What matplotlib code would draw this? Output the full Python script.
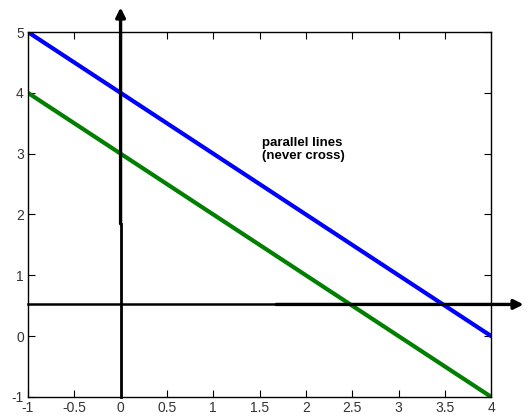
import numpy as np
import matplotlib.pyplot as plt

plt.rcParams['font.family'] = ['Liberation Sans', 'DejaVu Sans']
plt.rcParams['axes.unicode_minus'] = False

x_vals = [-1, 4]
blue_y = [5, 0]    # y = -x + 4
green_y = [4, -1]  # y = -x + 3
x_ticks = [-1, -0.5, 0, 0.5, 1, 1.5, 2, 2.5, 3, 3.5, 4]
y_ticks = [-1, 0, 1, 2, 3, 4, 5]

fig = plt.figure(figsize=(5.27, 4.16), dpi=100)
ax = fig.add_axes([0.053, 0.046, 0.879, 0.877])

ax.plot(x_vals, blue_y, color='#0000ff', lw=3)
ax.plot(x_vals, green_y, color='#007f00', lw=3)

# axes arrows (thin full line plus a thicker arrow part)
ax.plot([0, 0], [-1, 1.85], color='black', lw=2, clip_on=False)
ax.annotate('', xy=(0, 5.45), xytext=(0, 1.8),
            arrowprops=dict(arrowstyle='-|>', color='black', lw=2.4, mutation_scale=14),
            annotation_clip=False)
ax.plot([-1, 1.7], [0.52, 0.52], color='black', lw=1.8, clip_on=False)
ax.annotate('', xy=(4.38, 0.52), xytext=(1.65, 0.52),
            arrowprops=dict(arrowstyle='-|>', color='black', lw=2.4, mutation_scale=14),
            annotation_clip=False)

ax.text(1.53, 3.27, 'parallel lines\n(never cross)', fontsize=9.5, fontweight='bold',
        va='top', ha='left', linespacing=1.1)

ax.set_xlim(-1, 4)
ax.set_ylim(-1, 5)
ax.set_xticks(x_ticks)
ax.set_xticklabels(['-1', '-0.5', '0', '0.5', '1', '1.5', '2', '2.5', '3', '3.5', '4'])
ax.set_yticks(y_ticks)
ax.tick_params(direction='in', length=5, labelsize=10, labelcolor='#333333',
               top=True, right=True, pad=3)
for s in ax.spines.values():
    s.set_linewidth(1)

fig.savefig('out.png', dpi=100)
